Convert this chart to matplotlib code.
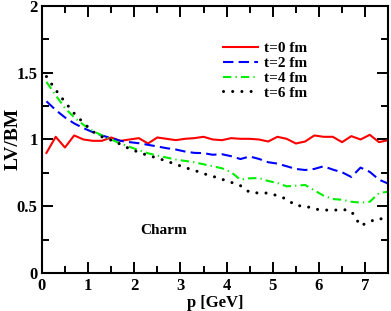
import numpy as np
import matplotlib
matplotlib.use("Agg")
import matplotlib.pyplot as plt
from matplotlib.ticker import MultipleLocator

plt.rcParams['font.family'] = ['Liberation Serif', 'DejaVu Serif']
plt.rcParams['font.weight'] = 'bold'

p = np.arange(0.1, 7.6, 0.2)

t0 = [0.90, 1.02, 0.94, 1.03, 1.00, 0.99, 0.99, 1.015, 0.99, 1.00,
      1.01, 0.97, 1.015, 1.005, 0.995, 1.005, 1.01, 1.02, 1.00, 0.995,
      1.01, 1.005, 1.005, 1.00, 0.985, 1.02, 1.005, 0.97, 0.985, 1.03,
      1.02, 1.02, 0.98, 1.025, 1.00, 1.035, 0.98, 0.995]
t2 = [1.285, 1.22, 1.165, 1.12, 1.085, 1.055, 1.03, 1.01, 0.99, 0.98,
      0.972, 0.96, 0.948, 0.935, 0.925, 0.91, 0.90, 0.898, 0.886, 0.89,
      0.875, 0.854, 0.873, 0.855, 0.83, 0.82, 0.80, 0.78, 0.772, 0.78,
      0.80, 0.775, 0.755, 0.72, 0.79, 0.758, 0.70, 0.67]
t4 = [1.43, 1.33, 1.235, 1.165, 1.11, 1.065, 1.03, 1.00, 0.97, 0.945,
      0.92, 0.897, 0.88, 0.865, 0.85, 0.84, 0.83, 0.815, 0.80, 0.785,
      0.755, 0.70, 0.71, 0.712, 0.69, 0.675, 0.65, 0.655, 0.66, 0.62,
      0.58, 0.555, 0.55, 0.535, 0.528, 0.535, 0.60, 0.61]
t6 = [1.47, 1.37, 1.28, 1.195, 1.125, 1.06, 1.02, 0.995, 0.965, 0.93,
      0.905, 0.88, 0.862, 0.838, 0.815, 0.79, 0.77, 0.745, 0.725, 0.703,
      0.68, 0.655, 0.605, 0.60, 0.60, 0.58, 0.555, 0.505, 0.504, 0.48,
      0.474, 0.47, 0.479, 0.465, 0.355, 0.387, 0.412, 0.39]

fig = plt.figure(figsize=(3.91, 3.11), dpi=100)
ax = fig.add_axes([0.107, 0.121, 0.886, 0.861])

ax.plot(p, t0, color='red', lw=1.5, label='t=0 fm')
ax.plot(p, t2, color='blue', lw=1.5, dashes=(5, 2.5), label='t=2 fm')
ax.plot(p, t4, color='#00ee00', lw=1.5, dashes=(4, 2, 0.6, 2), label='t=4 fm')
ax.plot(p, t6, color='black', lw=2.2, dashes=(0.01, 3), dash_capstyle='round', label='t=6 fm')

ax.set_xlim(0, 7.5)
ax.set_ylim(0, 2)
ax.xaxis.set_major_locator(MultipleLocator(1))
ax.xaxis.set_minor_locator(MultipleLocator(0.5))
ax.yaxis.set_minor_locator(MultipleLocator(0.25))
ax.set_yticks([0, 0.5, 1, 1.5, 2])
ax.set_yticklabels(['0', '0.5', '1', '1.5', '2'])
ax.tick_params(which='both', direction='in', top=True, right=True, width=1.4,
               labelsize=12, pad=3)
ax.tick_params(which='major', length=8)
ax.tick_params(which='minor', length=5)
for s in ax.spines.values():
    s.set_linewidth(1.5)

ax.set_xlabel('p [GeV]', fontsize=12, fontweight='bold', labelpad=1)
fig.text(13 / 391, 1 - 139 / 311, 'LV/BM', fontsize=14, fontweight='bold',
         rotation=90, ha='center', va='center')
ax.text(2.63, 0.32, 'Charm', fontsize=11, fontweight='bold', ha='center', va='center')

ax.legend(loc='upper left', bbox_to_anchor=(0.5, 0.895), frameon=False, fontsize=11,
          handlelength=2.3, handletextpad=0.4, labelspacing=0.08, borderpad=0)

fig.savefig('out.png', dpi=100)
